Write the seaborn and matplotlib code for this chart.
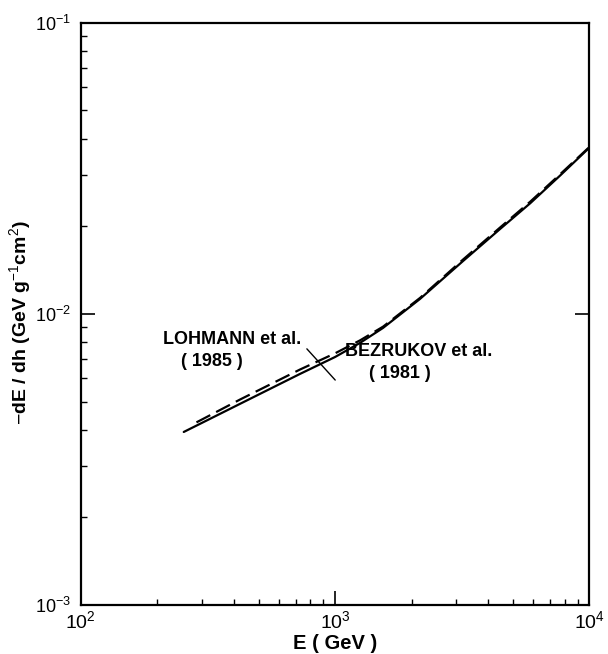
import numpy as np
import pandas as pd
import matplotlib
matplotlib.use("Agg")
import matplotlib.pyplot as plt
import seaborn as sns

# energy loss curves (E in GeV, -dE/dh in GeV g^-1 cm^2)
e_bezrukov = [254, 423, 728, 1000, 1254, 1545, 2163, 3191, 4467, 5862, 7691, 10000]
loss_bezrukov = [3.93e-3, 4.91e-3, 6.22e-3, 7.11e-3, 7.95e-3, 8.95e-3, 1.127e-2,
                 1.52e-2, 1.96e-2, 2.40e-2, 2.99e-2, 3.72e-2]

e_lohmann = [285, 423, 728, 1000, 1254, 1545, 2163, 3191, 4467, 5862, 7691, 10000]
loss_lohmann = [4.24e-3, 5.08e-3, 6.44e-3, 7.32e-3, 8.11e-3, 9.04e-3, 1.136e-2,
                1.538e-2, 1.983e-2, 2.43e-2, 3.02e-2, 3.74e-2]

x_ticks = [1e2, 1e3, 1e4]
x_ticklabels = ["$10^2$", "$10^3$", "$10^4$"]
y_ticks = [1e-3, 1e-2, 1e-1]
y_ticklabels = ["$10^{-3}$", "$10^{-2}$", "$10^{-1}$"]

sns.set_style("ticks")
plt.rcParams["font.family"] = ["Liberation Sans", "DejaVu Sans"]
plt.rcParams["mathtext.fontset"] = "custom"
plt.rcParams["mathtext.rm"] = "Liberation Sans"
plt.rcParams["mathtext.it"] = "Liberation Sans"
plt.rcParams["mathtext.bf"] = "Liberation Sans:bold"
for key in ["text.color", "axes.labelcolor", "xtick.color", "ytick.color",
            "axes.edgecolor"]:
    plt.rcParams[key] = "black"

df_b = pd.DataFrame({"E": e_bezrukov, "loss": loss_bezrukov})
df_l = pd.DataFrame({"E": e_lohmann, "loss": loss_lohmann})

fig = plt.figure(figsize=(6.08, 6.54), dpi=100)
ax = fig.add_axes([0.133, 0.075, 0.836, 0.890])

sns.lineplot(data=df_b, x="E", y="loss", ax=ax, color="black", linewidth=1.6)
sns.lineplot(data=df_l, x="E", y="loss", ax=ax, color="black", linewidth=1.6,
             dashes=False, linestyle=(0, (7, 3)))

ax.set_xscale("log")
ax.set_yscale("log")
ax.set_xlim(1e2, 1e4)
ax.set_ylim(1e-3, 1e-1)

ax.set_xticks(x_ticks)
ax.set_xticklabels(x_ticklabels, fontsize=14)
ax.set_yticks(y_ticks)
ax.set_yticklabels(y_ticklabels, fontsize=13)

ax.tick_params(which="major", direction="in", length=10, width=1.2)
ax.tick_params(which="minor", direction="in", length=4, width=1.0)
ax.tick_params(axis="x", which="major", pad=4)
ax.tick_params(axis="y", which="major", pad=7, right=True)
ax.tick_params(axis="y", which="minor", right=False)

for sp in ax.spines.values():
    sp.set_linewidth(1.6)
    sp.set_color("black")

ax.set_xlabel("E ( GeV )", fontsize=14.5, fontweight="bold", labelpad=1)
ax.set_ylabel(r"$-$dE / dh (GeV g$^{-1}$cm$^{2}$)", fontsize=14,
              fontweight="bold")
ax.yaxis.set_label_coords(-0.094, 0.485)

# curve labels with leader line
ax.text(210, 8.15e-3, "LOHMANN et al.", fontsize=13, fontweight="bold",
        ha="left", va="center")
ax.text(328, 6.84e-3, "( 1985 )", fontsize=13, fontweight="bold",
        ha="center", va="center")
ax.text(1094, 7.4e-3, "BEZRUKOV et al.", fontsize=13, fontweight="bold",
        ha="left", va="center")
ax.text(1803, 6.22e-3, "( 1981 )", fontsize=13, fontweight="bold",
        ha="center", va="center")
ax.annotate("", xy=(1019, 5.83e-3), xytext=(762, 7.71e-3),
            arrowprops=dict(arrowstyle="-", color="black", lw=1.0))

fig.savefig("out.png", dpi=100)
